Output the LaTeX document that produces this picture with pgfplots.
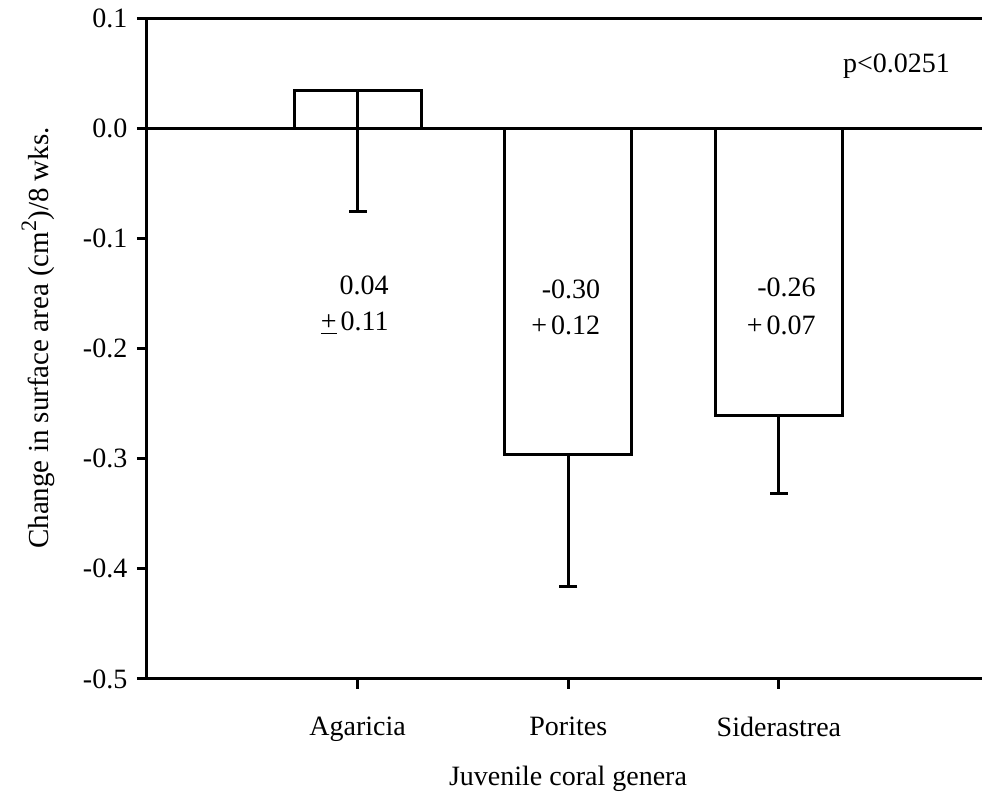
\documentclass[border=0pt]{standalone}
\usepackage{fontspec}
\setmainfont{Liberation Serif}
\usepackage{pgfplots}
\pgfplotsset{compat=1.18}
\begin{document}
\fontsize{14pt}{17.8pt}\selectfont
\begin{tikzpicture}
\begin{axis}[
  name=ax, at={(0,0)}, anchor=south west,
  scale only axis, width=417.5pt, height=330.5pt,
  xmin=0, xmax=3.964, ymin=-0.5, ymax=0.1,
  axis x line=box, axis y line=left,
  x axis line style={-}, y axis line style={-},
  axis line style={line width=1.5pt},
  xtick={1,2,3}, xticklabels={Agaricia,Porites,Siderastrea},
  xtick pos=left,
  ytick={-0.5,-0.4,-0.3,-0.2,-0.1,0,0.1},
  yticklabels={-0.5,-0.4,-0.3,-0.2,-0.1,0.0,0.1},
  tick align=outside, major tick length=5pt,
  tick style={line width=1.5pt, black},
  xticklabel style={yshift=-9pt},
  yticklabel style={xshift=0pt},
  clip=false,
]
\addplot[line width=1.5pt, black, no marks] coordinates {(0,0) (3.964,0)};
\addplot[ybar, bar width=0.603, fill=white, draw=black, line width=1.5pt,
  error bars/.cd, y dir=minus, y explicit,
  error bar style={line width=1.5pt},
  error mark options={rotate=90, mark size=4.5pt, line width=1.5pt}]
  coordinates {(1,0.034) -= (0,0.11) (2,-0.296) -= (0,0.12) (3,-0.261) -= (0,0.071)};
\node[anchor=base east, inner sep=0pt] at (axis cs:1.149,-0.1514) {0.04};
\node[anchor=base east, inner sep=0pt] at (axis cs:1.149,-0.184) {\underline{+}\hspace{2pt}0.11};
\node[anchor=base east, inner sep=0pt] at (axis cs:2.153,-0.1544) {-0.30};
\node[anchor=base east, inner sep=0pt] at (axis cs:2.153,-0.1869) {+\hspace{2pt}0.12};
\node[anchor=base east, inner sep=0pt] at (axis cs:3.176,-0.1532) {-0.26};
\node[anchor=base east, inner sep=0pt] at (axis cs:3.176,-0.1869) {+\hspace{2pt}0.07};
\node[anchor=base west, inner sep=0pt] at (axis cs:3.303,0.0504) {p<0.0251};
\end{axis}
\node[rotate=90, font=\fontsize{14.5pt}{17pt}\selectfont] at (-54.5pt,170.5pt) {Change in surface area (cm\raisebox{6pt}{\fontsize{11pt}{12pt}\selectfont 2})/8 wks.};
\node at (210.5pt,-50pt) {Juvenile coral genera};
\pgfresetboundingbox
\path (-73.5pt,-62.5pt) rectangle (417.5pt,339.5pt);
\end{tikzpicture}
\end{document}
